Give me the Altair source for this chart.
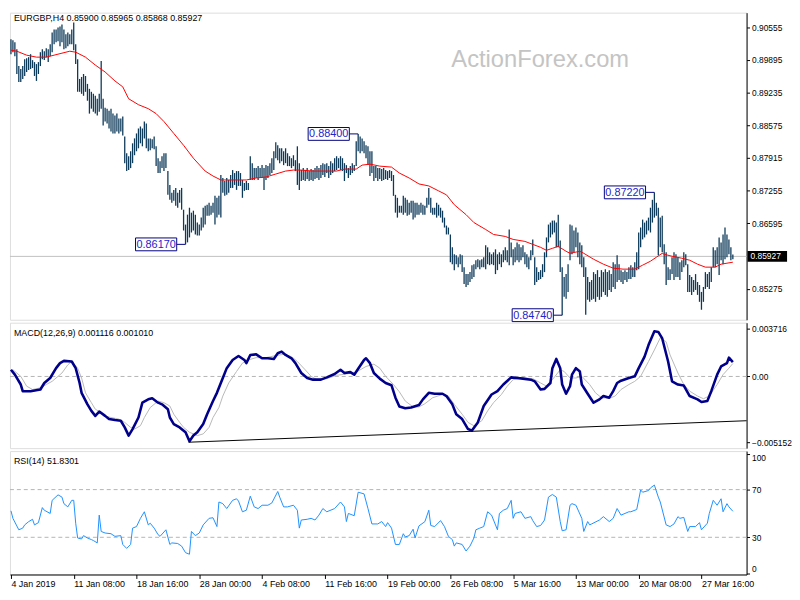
import altair as alt
import pandas as pd

# ---------------- data ----------------
HIGH = [
 0.9031, 0.9029, 0.9025, 0.9011, 0.8977, 0.8971, 0.8977, 0.8991, 0.8993, 0.8995,
 0.9001, 0.8989, 0.8985, 0.8981, 0.8985, 0.9005, 0.9011, 0.9007, 0.9013, 0.9011,
 0.9021, 0.9045, 0.9051, 0.9051, 0.9055, 0.9057, 0.9061, 0.9051, 0.9041, 0.9045,
 0.9041, 0.9051, 0.9065, 0.9021, 0.8991, 0.8951, 0.8955, 0.8961, 0.8957, 0.8941,
 0.8931, 0.8925, 0.8921, 0.8917, 0.8911, 0.8921, 0.8987, 0.8911, 0.8893, 0.8891,
 0.8887, 0.8891, 0.8881, 0.8877, 0.8881, 0.8871, 0.8871, 0.8875, 0.8835, 0.8801,
 0.8795, 0.8805, 0.8821, 0.8831, 0.8841, 0.8851, 0.8855, 0.8851, 0.8865, 0.8861,
 0.8831, 0.8831, 0.8829, 0.8835, 0.8815, 0.8791, 0.8785, 0.8795, 0.8801, 0.8801,
 0.8765, 0.8737, 0.8721, 0.8727, 0.8731, 0.8721, 0.8727, 0.8731, 0.8687, 0.8657,
 0.8677, 0.8691, 0.8681, 0.8685, 0.8677, 0.8661, 0.8657, 0.8671, 0.8691, 0.8695,
 0.8697, 0.8701, 0.8695, 0.8701, 0.8715, 0.8711, 0.8715, 0.8757, 0.8751, 0.8745,
 0.8751, 0.8747, 0.8757, 0.8767, 0.8761, 0.8765, 0.8765, 0.8761, 0.8747, 0.8741,
 0.8745, 0.8741, 0.8795, 0.8781, 0.8771, 0.8771, 0.8775, 0.8771, 0.8777, 0.8771,
 0.8777, 0.8775, 0.8781, 0.8791, 0.8805, 0.8823, 0.8817, 0.8811, 0.8811, 0.8805,
 0.8811, 0.8801, 0.8795, 0.8791, 0.8797, 0.8787, 0.8815, 0.8781, 0.8767, 0.8771,
 0.8767, 0.8771, 0.8765, 0.8769, 0.8767, 0.8771, 0.8775, 0.8771, 0.8777, 0.8781,
 0.8779, 0.8781, 0.8775, 0.8785, 0.8781, 0.8791, 0.8795, 0.8791, 0.8795, 0.8791,
 0.8781, 0.8777, 0.8771, 0.8775, 0.8781, 0.8777, 0.8825, 0.8840, 0.8835, 0.8831,
 0.8825, 0.8817, 0.8815, 0.8805, 0.8805, 0.8775, 0.8775, 0.8771, 0.8771, 0.8769,
 0.8771, 0.8767, 0.8765, 0.8767, 0.8765, 0.8757, 0.8717, 0.8711, 0.8695, 0.8695,
 0.8715, 0.8711, 0.8707, 0.8701, 0.8705, 0.8705, 0.8701, 0.8701, 0.8697, 0.8701,
 0.8697, 0.8695, 0.8711, 0.8731, 0.8711, 0.8691, 0.8691, 0.8701, 0.8697, 0.8691,
 0.8685, 0.8671, 0.8655, 0.8651, 0.8637, 0.8611, 0.8597, 0.8595, 0.8591, 0.8597,
 0.8595, 0.8571, 0.8557, 0.8557, 0.8561, 0.8575, 0.8577, 0.8585, 0.8587, 0.8585,
 0.8587, 0.8591, 0.8615, 0.8611, 0.8601, 0.8597, 0.8601, 0.8607, 0.8597, 0.8601,
 0.8597, 0.8605, 0.8611, 0.8605, 0.8647, 0.8621, 0.8607, 0.8611, 0.8621, 0.8617,
 0.8611, 0.8615, 0.8601, 0.8597, 0.8591, 0.8605, 0.8627, 0.8591, 0.8571, 0.8561,
 0.8565, 0.8577, 0.8601, 0.8631, 0.8657, 0.8661, 0.8665, 0.8665, 0.8661, 0.8677,
 0.8625, 0.8571, 0.8551, 0.8557, 0.8577, 0.8657, 0.8655, 0.8645, 0.8651, 0.8641,
 0.8621, 0.8615, 0.8591, 0.8571, 0.8551, 0.8541, 0.8545, 0.8561, 0.8557, 0.8565,
 0.8551, 0.8565, 0.8561, 0.8567, 0.8561, 0.8565, 0.8557, 0.8581, 0.8577, 0.8595,
 0.8577, 0.8565, 0.8561, 0.8565, 0.8561, 0.8571, 0.8575, 0.8571, 0.8581, 0.8601,
 0.8641, 0.8651, 0.8667, 0.8661, 0.8665, 0.8671, 0.8691, 0.8707, 0.8722, 0.8701,
 0.8691, 0.8671, 0.8675, 0.8617, 0.8601, 0.8571, 0.8567, 0.8591, 0.8601, 0.8597,
 0.8591, 0.8581, 0.8585, 0.8601, 0.8597, 0.8577, 0.8555, 0.8551, 0.8545, 0.8557,
 0.8541, 0.8535, 0.8521, 0.8531, 0.8561, 0.8557, 0.8561, 0.8571, 0.8611, 0.8605,
 0.8611, 0.8631, 0.8621, 0.8637, 0.8651, 0.8637, 0.8627, 0.8611, 0.85965,
]
LOW = [
 0.9001, 0.9005, 0.8997, 0.8961, 0.8945, 0.8945, 0.8951, 0.8957, 0.8965, 0.8969,
 0.8971, 0.8973, 0.8957, 0.8947, 0.8961, 0.8977, 0.8991, 0.8989, 0.8995, 0.8985,
 0.8997, 0.9005, 0.9021, 0.9025, 0.9027, 0.9017, 0.9025, 0.9011, 0.9013, 0.9017,
 0.9021, 0.9021, 0.9009, 0.8981, 0.8925, 0.8925, 0.8921, 0.8917, 0.8925, 0.8907,
 0.8881, 0.8891, 0.8885, 0.8881, 0.8877, 0.8885, 0.8891, 0.8857, 0.8865, 0.8861,
 0.8851, 0.8845, 0.8841, 0.8841, 0.8845, 0.8841, 0.8845, 0.8837, 0.8781, 0.8765,
 0.8767, 0.8771, 0.8781, 0.8797, 0.8805, 0.8811, 0.8821, 0.8815, 0.8831, 0.8811,
 0.8805, 0.8807, 0.8811, 0.8809, 0.8775, 0.8761, 0.8761, 0.8771, 0.8765, 0.8771,
 0.8717, 0.8707, 0.8701, 0.8705, 0.8695, 0.8691, 0.8701, 0.8687, 0.8645, 0.8617,
 0.8621, 0.8631, 0.8641, 0.8645, 0.8637, 0.8635, 0.8635, 0.8645, 0.8651, 0.8657,
 0.8675, 0.8675, 0.8677, 0.8681, 0.8657, 0.8671, 0.8677, 0.8671, 0.8721, 0.8715,
 0.8717, 0.8721, 0.8731, 0.8731, 0.8737, 0.8727, 0.8735, 0.8735, 0.8711, 0.8725,
 0.8727, 0.8727, 0.8747, 0.8747, 0.8747, 0.8751, 0.8747, 0.8751, 0.8751, 0.8727,
 0.8747, 0.8751, 0.8757, 0.8761, 0.8767, 0.8791, 0.8787, 0.8781, 0.8785, 0.8777,
 0.8781, 0.8775, 0.8775, 0.8771, 0.8775, 0.8765, 0.8737, 0.8727, 0.8745, 0.8747,
 0.8745, 0.8749, 0.8745, 0.8747, 0.8745, 0.8749, 0.8751, 0.8747, 0.8751, 0.8757,
 0.8753, 0.8761, 0.8751, 0.8757, 0.8761, 0.8765, 0.8767, 0.8771, 0.8767, 0.8765,
 0.8745, 0.8761, 0.8751, 0.8757, 0.8761, 0.8765, 0.8775, 0.8805, 0.8801, 0.8805,
 0.8801, 0.8791, 0.8777, 0.8755, 0.8761, 0.8745, 0.8751, 0.8745, 0.8749, 0.8745,
 0.8747, 0.8749, 0.8747, 0.8751, 0.8745, 0.8715, 0.8681, 0.8671, 0.8681, 0.8681,
 0.8677, 0.8681, 0.8675, 0.8677, 0.8681, 0.8667, 0.8671, 0.8677, 0.8677, 0.8681,
 0.8677, 0.8677, 0.8691, 0.8697, 0.8681, 0.8677, 0.8677, 0.8671, 0.8675, 0.8671,
 0.8661, 0.8651, 0.8637, 0.8637, 0.8581, 0.8577, 0.8565, 0.8577, 0.8571, 0.8577,
 0.8561, 0.8537, 0.8531, 0.8535, 0.8541, 0.8547, 0.8551, 0.8567, 0.8571, 0.8567,
 0.8571, 0.8571, 0.8567, 0.8577, 0.8575, 0.8577, 0.8575, 0.8557, 0.8565, 0.8577,
 0.8571, 0.8581, 0.8585, 0.8581, 0.8575, 0.8591, 0.8575, 0.8581, 0.8585, 0.8581,
 0.8585, 0.8591, 0.8577, 0.8571, 0.8567, 0.8585, 0.8595, 0.8535, 0.8541, 0.8545,
 0.8547, 0.8551, 0.8561, 0.8591, 0.8621, 0.8631, 0.8637, 0.8641, 0.8611, 0.8611,
 0.8561, 0.8474, 0.8511, 0.8507, 0.8521, 0.8585, 0.8597, 0.8601, 0.8611, 0.8591,
 0.8577, 0.8571, 0.8551, 0.8475, 0.8505, 0.8501, 0.8505, 0.8507, 0.8501, 0.8511,
 0.8505, 0.8511, 0.8521, 0.8515, 0.8511, 0.8525, 0.8521, 0.8531, 0.8527, 0.8541,
 0.8545, 0.8541, 0.8537, 0.8545, 0.8541, 0.8547, 0.8547, 0.8551, 0.8551, 0.8565,
 0.8567, 0.8611, 0.8627, 0.8631, 0.8637, 0.8645, 0.8641, 0.8661, 0.8671, 0.8675,
 0.8595, 0.8611, 0.8601, 0.8577, 0.8535, 0.8545, 0.8545, 0.8557, 0.8545, 0.8551,
 0.8551, 0.8545, 0.8561, 0.8571, 0.8575, 0.8521, 0.8521, 0.8515, 0.8521, 0.8525,
 0.8515, 0.8501, 0.8485, 0.8501, 0.8527, 0.8531, 0.8527, 0.8541, 0.8571, 0.8571,
 0.8577, 0.8555, 0.8585, 0.8577, 0.8587, 0.8591, 0.8597, 0.8585, 0.85868,
]

MA_IDX = [0, 3, 8, 13, 18, 22, 26, 30, 33, 38, 43, 48, 53, 57, 60, 65, 70, 74, 78, 83,
          88, 93, 99, 103, 107, 110, 116, 120, 125, 130, 135, 140, 144, 148, 154, 160,
          166, 170, 176, 179, 183, 188, 194, 198, 203, 208, 213, 218, 222, 226, 232,
          236, 242, 246, 252, 256, 262, 266, 270, 273, 276, 279, 283, 285, 290, 292,
          297, 302, 307, 312, 318, 322, 326, 329, 332, 333, 337, 342, 346, 350, 354,
          359, 362, 368]
MA_VAL = [0.9009, 0.9007, 0.8999, 0.8995, 0.8995, 0.8999, 0.9003, 0.9007, 0.9005, 0.8995,
          0.8979, 0.8965, 0.8947, 0.8935, 0.8911, 0.8899, 0.8891, 0.8881, 0.8865, 0.8841,
          0.8817, 0.8791, 0.8765, 0.8755, 0.8747, 0.8747, 0.8747, 0.8747, 0.8751, 0.8753,
          0.8759, 0.8765, 0.8767, 0.8767, 0.8765, 0.8765, 0.8765, 0.8769, 0.8769, 0.8777,
          0.8779, 0.8775, 0.8773, 0.8761, 0.8751, 0.8739, 0.8735, 0.8725, 0.8717, 0.8697,
          0.8677, 0.8661, 0.8647, 0.8637, 0.8633, 0.8627, 0.8623, 0.8617, 0.8611, 0.8605,
          0.8609, 0.8613, 0.8603, 0.8599, 0.8603, 0.8599, 0.8587, 0.8577, 0.8569, 0.8567,
          0.8567, 0.8575, 0.8583, 0.8591, 0.8599, 0.8597, 0.8593, 0.8589, 0.8585, 0.8577,
          0.8571, 0.8571, 0.8577, 0.8581]

MACD_IDX = [0, 2, 5, 6, 10, 15, 17, 20, 23, 25, 27, 31, 33, 35, 36, 39, 41, 43, 45, 48,
            50, 53, 56, 58, 60, 62, 65, 67, 70, 72, 75, 77, 80, 81, 83, 86, 89, 91, 93, 95,
            98, 100, 103, 105, 108, 110, 113, 116, 119, 120, 122, 125, 128, 131, 134, 136,
            138, 140, 143, 145, 148, 151, 154, 158, 161, 165, 168, 170, 173, 175, 177, 180,
            181, 183, 185, 188, 191, 194, 196, 198, 201, 204, 208, 210, 213, 216, 220, 222,
            225, 227, 230, 233, 235, 238, 241, 245, 248, 251, 255, 258, 261, 265, 267, 270,
            272, 275, 276, 278, 280, 281, 283, 285, 286, 288, 290, 291, 294, 297, 300, 302,
            305, 307, 309, 311, 315, 318, 320, 323, 325, 328, 330, 332, 335, 337, 340, 343,
            346, 350, 352, 355, 357, 360, 362, 365, 366, 368]
MACD_VAL = [0.00052, 0.00014, -0.00063, -0.00115, -0.00115, -0.00102, -0.00051, -0.00012,
            0.00065, 0.00104, 0.00122, 0.00117, 0.00065, -0.00051, -0.00128, -0.00218,
            -0.00269, -0.00308, -0.00274, -0.00308, -0.00333, -0.00341, -0.00346, -0.00398,
            -0.00462, -0.00411, -0.00321, -0.00205, -0.00179, -0.00171, -0.00205, -0.00218,
            -0.00256, -0.00321, -0.00372, -0.00398, -0.00436, -0.00506, -0.00462, -0.00436,
            -0.00372, -0.00295, -0.00192, -0.00128, -0.00012, 0.00065, 0.00129, 0.00160,
            0.00129, 0.00104, 0.00168, 0.00173, 0.00142, 0.00142, 0.00137, 0.00181,
            0.00194, 0.00168, 0.00142, 0.00104, 0.00027, -0.00012, -0.00025, -0.00025,
            -0.00007, 0.00019, 0.00052, 0.00027, 0.00034, 0.00014, 0.00060, 0.00129,
            0.00142, 0.00104, 0.00027, -0.00017, -0.00051, -0.00069, -0.00166, -0.00235,
            -0.00249, -0.00243, -0.00223, -0.00179, -0.00128, -0.00135, -0.00135, -0.00153,
            -0.00218, -0.00295, -0.00333, -0.00411, -0.00423, -0.00359, -0.00231, -0.00141,
            -0.00115, -0.00063, -0.00007, -0.00012, -0.00017, -0.00025, -0.00038, -0.00102,
            -0.00097, -0.00051, 0.00065, 0.00137, 0.00065, -0.00063, -0.00135, -0.00076,
            0.00014, 0.00065, 0.00039, -0.00063, -0.00135, -0.00205, -0.00179, -0.00153,
            -0.00166, -0.00115, -0.00051, -0.00033, -0.00012, 0.00001, 0.00065, 0.00155,
            0.00245, 0.00353, 0.00348, 0.00297, 0.00117, -0.00038, -0.00063, -0.00071,
            -0.00153, -0.00179, -0.00200, -0.00192, -0.00115, 0.00014, 0.00078, 0.00104,
            0.00147, 0.001116]

SIG_IDX = [1, 5, 8, 11, 15, 18, 21, 26, 29, 31, 34, 36, 38, 41, 43, 46, 48, 51, 55, 58,
           61, 63, 66, 68, 71, 75, 78, 81, 83, 86, 88, 91, 95, 98, 101, 103, 106, 108, 111,
           115, 118, 121, 125, 130, 135, 139, 143, 146, 150, 153, 156, 161, 166, 171, 176,
           181, 185, 188, 191, 195, 198, 201, 205, 208, 211, 215, 220, 223, 226, 230, 233,
           236, 240, 243, 246, 250, 253, 256, 261, 266, 270, 273, 276, 280, 282, 285, 288,
           291, 295, 298, 301, 305, 308, 311, 315, 318, 321, 325, 328, 331, 334, 336, 340,
           343, 346, 350, 353, 356, 360, 363, 366, 368]
SIG_VAL = [0.00052, 0.00001, -0.00076, -0.00102, -0.00089, -0.00063, -0.00038, 0.00027,
           0.00091, 0.00117, 0.00065, -0.00012, -0.00128, -0.00205, -0.00256, -0.00282,
           -0.00308, -0.00321, -0.00333, -0.00359, -0.00398, -0.00411, -0.00385, -0.00321,
           -0.00243, -0.00192, -0.00205, -0.00231, -0.00295, -0.00359, -0.00398, -0.00436,
           -0.00462, -0.00449, -0.00398, -0.00321, -0.00243, -0.00153, -0.00051, 0.00039,
           0.00104, 0.00129, 0.00147, 0.00147, 0.00163, 0.00173, 0.00155, 0.00117, 0.00052,
           0.00001, -0.00025, -0.00017, 0.00009, 0.00019, 0.00034, 0.00078, 0.00096,
           0.00065, 0.00001, -0.00063, -0.00120, -0.00192, -0.00238, -0.00238, -0.00213,
           -0.00166, -0.00141, -0.00153, -0.00218, -0.00295, -0.00359, -0.00385, -0.00346,
           -0.00269, -0.00205, -0.00141, -0.00076, -0.00025, -0.00012, -0.00017, -0.00051,
           -0.00076, -0.00025, 0.00052, 0.00039, -0.00012, -0.00012, 0.00001, -0.00063,
           -0.00128, -0.00166, -0.00171, -0.00153, -0.00102, -0.00063, -0.00038, 0.00001,
           0.00117, 0.00207, 0.00302, 0.00271, 0.00168, 0.00027, -0.00063, -0.00115,
           -0.00153, -0.00174, -0.00153, -0.00063, 0.00014, 0.00065, 0.001010]

TREND_IDX = [90.5, 375]
TREND_VAL = [-0.00514, -0.00346]

RSI_IDX = [0, 1, 4, 6, 7, 9, 11, 12, 14, 16, 17, 20, 21, 24, 26, 27, 29, 31, 32, 33, 34,
           36, 37, 39, 41, 42, 44, 45, 46, 48, 51, 53, 56, 57, 59, 61, 62, 64, 66, 68, 70,
           71, 73, 75, 76, 79, 81, 82, 85, 87, 89, 91, 92, 94, 96, 98, 101, 103, 105, 106,
           108, 110, 113, 115, 116, 118, 120, 122, 124, 126, 128, 131, 133, 136, 137, 139,
           141, 144, 146, 147, 148, 151, 153, 155, 157, 159, 161, 165, 168, 170, 171, 172,
           175, 177, 180, 182, 184, 187, 189, 191, 192, 194, 196, 198, 200, 201, 203, 205,
           206, 208, 211, 213, 214, 216, 219, 221, 223, 225, 226, 227, 230, 232, 234, 236,
           237, 239, 241, 243, 245, 246, 248, 249, 251, 253, 255, 256, 257, 260, 262, 265,
           266, 268, 270, 272, 274, 276, 278, 280, 281, 283, 285, 286, 288, 291, 292, 294,
           295, 296, 300, 302, 305, 307, 309, 311, 315, 316, 319, 321, 322, 325, 326, 328,
           330, 331, 334, 336, 338, 340, 341, 343, 345, 346, 349, 351, 352, 355, 356, 358,
           360, 362, 363, 365, 366, 368]
RSI_VAL = [52.2, 45.9, 36.3, 37.7, 40.4, 43.1, 45.1, 40.4, 42.3, 54.9, 52.7, 50.0, 61.0,
           65.6, 63.7, 58.2, 55.5, 61.0, 61.0, 41.8, 29.4, 28.6, 31.4, 29.4, 28.1, 27.3,
           25.3, 48.6, 34.9, 33.6, 33.0, 30.8, 31.4, 24.0, 20.7, 24.0, 37.7, 39.0, 45.9,
           51.4, 40.4, 41.8, 37.7, 32.2, 30.8, 36.3, 24.0, 25.3, 24.8, 22.6, 17.1, 15.8,
           34.9, 31.4, 33.6, 40.4, 45.9, 46.4, 39.0, 59.6, 58.2, 54.1, 61.0, 62.3, 60.4,
           51.4, 52.7, 64.5, 55.5, 54.1, 56.9, 56.9, 58.8, 68.4, 63.7, 55.5, 55.5, 56.9,
           52.7, 37.7, 44.5, 45.1, 45.9, 44.5, 48.6, 54.1, 51.4, 54.1, 59.6, 55.5, 43.2,
           50.0, 48.1, 67.8, 66.4, 54.1, 41.2, 41.2, 43.2, 39.0, 42.3, 37.7, 24.0, 24.0,
           33.0, 30.3, 31.4, 36.8, 29.4, 39.6, 43.1, 52.7, 39.9, 39.0, 44.0, 39.0, 30.8,
           28.1, 22.6, 25.3, 24.0, 18.5, 22.6, 29.4, 36.3, 37.7, 39.0, 51.4, 48.6, 44.5,
           36.3, 50.0, 52.7, 54.1, 61.0, 45.9, 50.0, 51.4, 45.9, 47.3, 44.0, 39.0, 39.9,
           44.5, 63.7, 65.9, 63.7, 43.2, 35.5, 36.3, 56.9, 58.2, 56.9, 45.9, 34.9, 43.2,
           40.4, 41.2, 44.5, 47.3, 43.2, 45.9, 54.1, 48.6, 51.4, 51.4, 53.3, 69.7, 67.8,
           69.2, 71.4, 73.8, 63.7, 59.6, 40.4, 39.0, 41.2, 47.3, 45.9, 46.7, 34.9, 39.0,
           39.0, 42.3, 36.3, 41.8, 50.0, 61.0, 56.9, 62.3, 51.4, 58.2, 55.5, 51.83]

LAST_PRICE = 0.85927
ANN_BAR = [177, 89, 281, 328]
ANN_PRICE = [0.88400, 0.86170, 0.84740, 0.87220]
ANN_TEXT = ["0.88400", "0.86170", "0.84740", "0.87220"]

PRICE_TICKS = [0.90555, 0.89895, 0.89235, 0.88575, 0.87915, 0.87255, 0.86595, 0.85275]
MACD_TICKS = [0.003716, 0.0, -0.005152]
RSI_TICKS = [100, 70, 30, 0]
RSI_LEVELS = [70, 30]
XTICK_IDX = [0, 32, 64, 96, 128, 160, 192, 224, 256, 288, 320, 352]
XTICK_LABELS = ["4 Jan 2019", "11 Jan 08:00", "18 Jan 16:00", "28 Jan 00:00",
                "4 Feb 08:00", "11 Feb 16:00", "19 Feb 00:00", "26 Feb 08:00",
                "5 Mar 16:00", "13 Mar 00:00", "20 Mar 08:00", "27 Mar 16:00"]

HEADER_PRICE = "EURGBP,H4  0.85900 0.85965 0.85868 0.85927"
HEADER_MACD = "MACD(12,26,9) 0.001116 0.001010"
HEADER_RSI = "RSI(14) 51.8301"
WATERMARK = "ActionForex.com"

# ---------------- layout / styles ----------------
FONT = "Liberation Sans"
W = 746
H_PRICE, H_MACD, H_RSI = 311, 127, 125
xs = alt.Scale(domain=[-0.5, 375], nice=False, zero=False)
ps = alt.Scale(domain=[0.84648, 0.90848], nice=False, zero=False)
ms = alt.Scale(domain=[-0.0056, 0.0042], nice=False, zero=False)
rs = alt.Scale(domain=[-1.2, 102.3], nice=False, zero=False)
XN = alt.X("i:Q", scale=xs, axis=None)


def right_axis(values, **kw):
    return alt.Axis(orient="right", values=values, title=None, grid=False,
                    tickSize=3, labelPadding=2, labelFontSize=8.5, labelFont=FONT,
                    labelColor="black", tickColor="black", domainColor="black", **kw)


one = pd.DataFrame({"k": [0]})

# ---------------- price panel ----------------
PAX = right_axis(PRICE_TICKS, format=".5f")
bars = pd.DataFrame({"i": list(range(len(HIGH))), "high": HIGH, "low": LOW})
ma = pd.DataFrame({"i": MA_IDX, "price": MA_VAL})
last = pd.DataFrame({"price": [LAST_PRICE], "text": [f"{LAST_PRICE:.5f}"]})
ann = pd.DataFrame({"bar": ANN_BAR, "price": ANN_PRICE, "text": ANN_TEXT})
ann["right"] = ann["bar"] - 4.5
ann["left"] = ann["right"] - 21
ann["mid"] = (ann["left"] + ann["right"]) / 2


def PY(field):
    return alt.Y(field, scale=ps, axis=PAX)


price_line = alt.Chart(last).mark_rule(color="#c0c0c0", strokeWidth=1).encode(
    y=PY("price:Q"))
bar_layer = alt.Chart(bars).mark_rule(color="#0e3a5a", strokeWidth=1.3).encode(
    x=XN, y=PY("low:Q"), y2="high:Q")
ma_layer = alt.Chart(ma).mark_line(color="#ff0000", strokeWidth=1).encode(
    x=XN, y=PY("price:Q"))
conn = alt.Chart(ann).mark_rule(color="#000080", strokeWidth=1).encode(
    x=alt.X("right:Q", scale=xs, axis=None), x2="bar:Q", y=PY("price:Q"))
box = alt.Chart(ann).mark_rect(fill="white", stroke="#000080", strokeWidth=1,
                               yOffset=-6.5, y2Offset=6.5).encode(
    x=alt.X("left:Q", scale=xs, axis=None), x2="right:Q", y=PY("price:Q"), y2="price:Q")
box_text = alt.Chart(ann).mark_text(font=FONT, fontSize=11, color="#2424c8",
                                    align="center", baseline="middle", dy=0.5).encode(
    x=alt.X("mid:Q", scale=xs, axis=None), y=PY("price:Q"), text="text:N")
last_box = alt.Chart(last).mark_rect(fill="black", yOffset=-5.5, y2Offset=5.5).encode(
    x=alt.value(W + 1), x2=alt.value(W + 41), y=PY("price:Q"), y2="price:Q")
last_text = alt.Chart(last).mark_text(font=FONT, fontSize=8.5, color="white",
                                      align="left", baseline="middle").encode(
    x=alt.value(W + 4), y=PY("price:Q"), text="text:N")
hdr_p = alt.Chart(one).mark_text(font=FONT, fontSize=9, color="black", align="left",
                                 baseline="middle", text=HEADER_PRICE).encode(
    x=alt.value(4), y=alt.value(5))
wm = alt.Chart(one).mark_text(font=FONT, fontSize=24, color="#c4c4c4", align="center",
                              baseline="middle", text=WATERMARK).encode(
    x=alt.value(537), y=alt.value(48))

price = alt.layer(price_line, bar_layer, ma_layer, conn, box, box_text, last_box,
                  last_text, hdr_p, wm).properties(width=W, height=H_PRICE)

# ---------------- MACD panel ----------------
MAX = right_axis(MACD_TICKS,
                 labelExpr="datum.value == 0 ? '0.00' : format(datum.value, '.6f')")
macd = pd.DataFrame({"i": MACD_IDX, "v": MACD_VAL})
sig = pd.DataFrame({"i": SIG_IDX, "v": SIG_VAL})
trend = pd.DataFrame({"i": TREND_IDX, "v": TREND_VAL})
zero = pd.DataFrame({"v": [0.0]})
MY = alt.Y("v:Q", scale=ms, axis=MAX)

zero_line = alt.Chart(zero).mark_rule(color="#b4b4b4", strokeDash=[4, 3]).encode(y=MY)
sig_layer = alt.Chart(sig).mark_line(color="#b8b8b8", strokeWidth=1).encode(x=XN, y=MY)
macd_layer = alt.Chart(macd).mark_line(color="#00008b", strokeWidth=2.6,
                                       strokeJoin="round").encode(x=XN, y=MY)
trend_layer = alt.Chart(trend).mark_line(color="black", strokeWidth=1).encode(x=XN, y=MY)
hdr_m = alt.Chart(one).mark_text(font=FONT, fontSize=9, color="black", align="left",
                                 baseline="middle", text=HEADER_MACD).encode(
    x=alt.value(4), y=alt.value(10))
macd_panel = alt.layer(zero_line, sig_layer, macd_layer, trend_layer, hdr_m).properties(
    width=W, height=H_MACD)

# ---------------- RSI panel ----------------
RAX = right_axis(RSI_TICKS, labelFlush=6)
rsi = pd.DataFrame({"i": RSI_IDX, "v": RSI_VAL})
lev = pd.DataFrame({"v": RSI_LEVELS})
labels_js = "[" + ",".join("'" + s + "'" for s in XTICK_LABELS) + "]"
idx_js = "[" + ",".join(str(v) for v in XTICK_IDX) + "]"
x_axis = alt.Axis(values=XTICK_IDX, labelExpr=f"{labels_js}[indexof({idx_js}, datum.value)]",
                  title=None, grid=False, labelAlign="left", tickSize=4, labelPadding=1,
                  labelFontSize=9, labelFont=FONT, labelColor="black", tickColor="black",
                  domainColor="black", labelFlush=False, labelOverlap=False, labelBound=False)
RY = alt.Y("v:Q", scale=rs, axis=RAX)

lev_layer = alt.Chart(lev).mark_rule(color="#b4b4b4", strokeDash=[4, 3]).encode(y=RY)
rsi_layer = alt.Chart(rsi).mark_line(color="#1e90ff", strokeWidth=1).encode(
    x=alt.X("i:Q", scale=xs, axis=x_axis), y=RY)
hdr_r = alt.Chart(one).mark_text(font=FONT, fontSize=9, color="black", align="left",
                                 baseline="middle", text=HEADER_RSI).encode(
    x=alt.value(4), y=alt.value(10))
rsi_panel = alt.layer(lev_layer, rsi_layer, hdr_r).properties(width=W, height=H_RSI)

chart = alt.vconcat(price, macd_panel, rsi_panel, spacing=3, bounds="flush").properties(
    padding=0
).configure_view(stroke="black", strokeWidth=1).configure(font=FONT, background="white")

chart.save("out.html", embed_options={"renderer": "svg", "actions": False})
